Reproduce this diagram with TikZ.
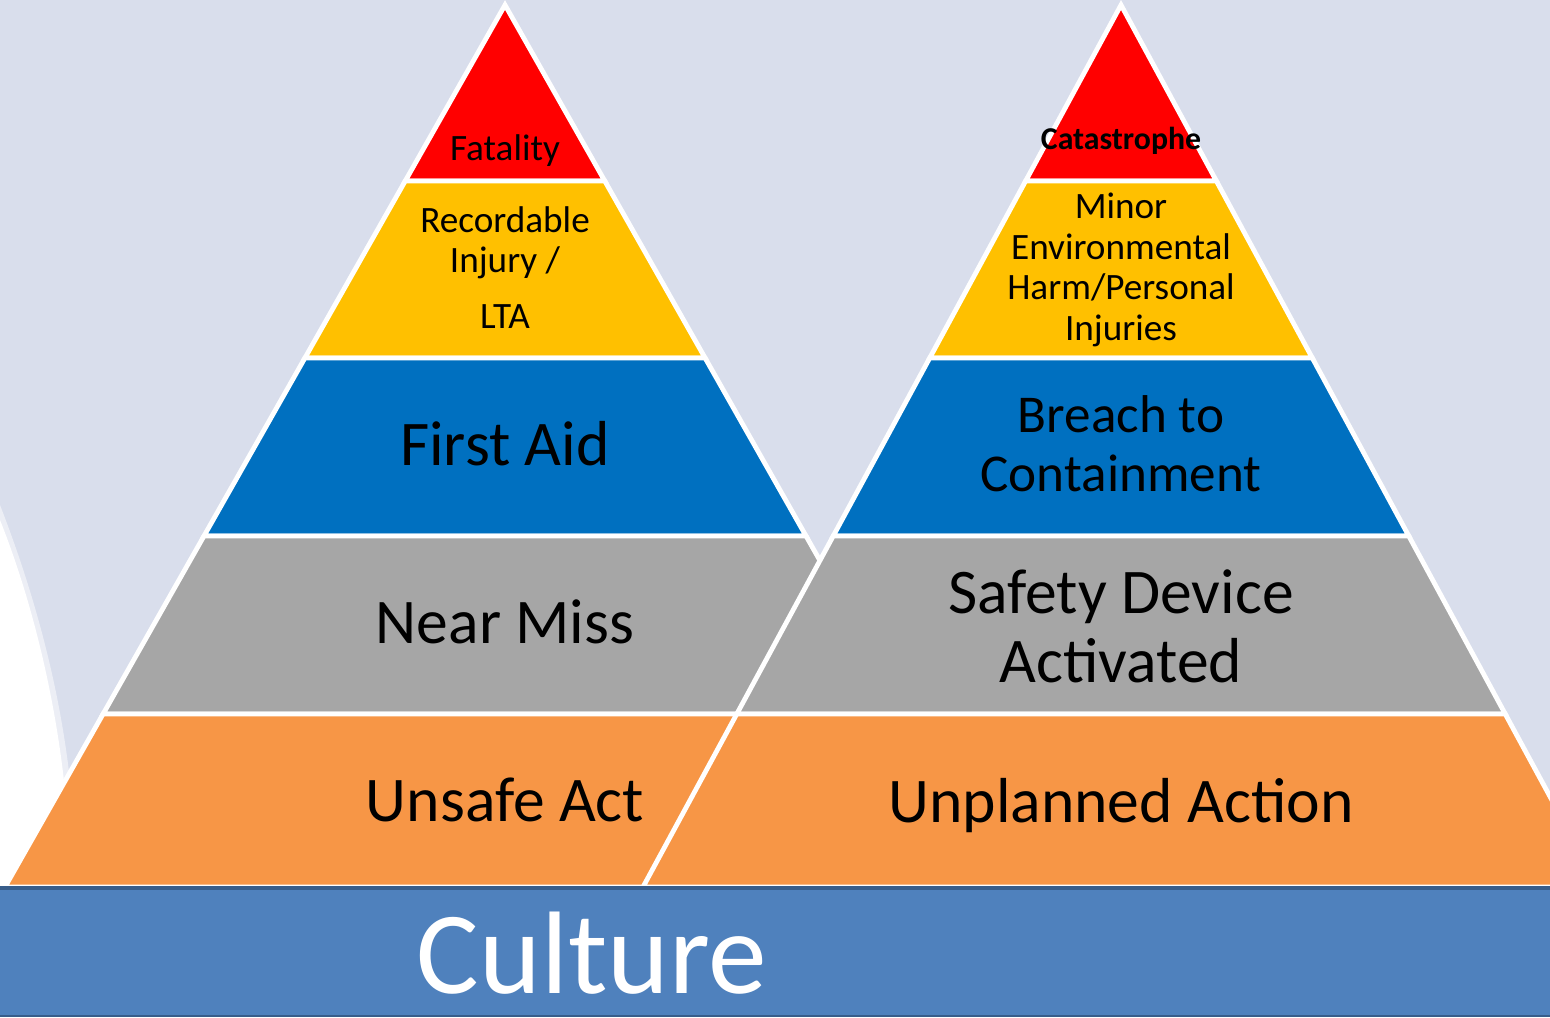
\documentclass[tikz,border=0pt]{standalone}
\usepackage{fontspec}
\setmainfont{Carlito}
\usetikzlibrary{calc}
\definecolor{bg}{RGB}{217,222,236}
\definecolor{cred}{RGB}{255,0,0}
\definecolor{cyel}{RGB}{255,192,0}
\definecolor{cblue}{RGB}{0,112,192}
\definecolor{cgray}{RGB}{166,166,166}
\definecolor{corange}{RGB}{247,150,70}
\definecolor{band}{RGB}{79,129,189}
\definecolor{bandline}{RGB}{56,93,138}
\begin{document}
\begin{tikzpicture}[x=0.5pt,y=-0.5pt,
  layer/.style={draw=white,line width=2.4pt,line join=miter},
  lbl/.style={anchor=base,inner sep=0pt,text=black},
  fs/.style={font=\fontsize{18.6}{20}\selectfont},
  fb/.style={font=\fontsize{15.9}{18}\selectfont\bfseries},
  fm/.style={font=\fontsize{26.6}{30}\selectfont},
  fl/.style={font=\fontsize{31.8}{36}\selectfont}]
\useasboundingbox (0,0) rectangle (1550,1017);
\begin{scope}
\clip (0,0) rectangle (1550,1017);
\fill[bg] (0,0) rectangle (1550,1017);
% white curved area at left
\fill[white,opacity=0.5] (0,505) .. controls (33,590) and (62,690) .. (72,800) -- (72,887) -- (0,887) -- cycle;
\fill[white] (0,520) .. controls (30,595) and (56,695) .. (66,800) -- (66,887) -- (0,887) -- cycle;

% ---------- left pyramid ----------
\coordinate (LA) at (505,5);
\coordinate (LL) at (5,887);
\coordinate (LR) at (1005,887);
\filldraw[layer,fill=cred] (LA) -- ($(LA)!0.19955!(LL)$) -- ($(LA)!0.19955!(LR)$) -- cycle;
\foreach \a/\b/\c in {0.19955/0.40023/cyel,0.40023/0.60204/cblue,0.60204/0.80385/cgray,0.80385/1/corange}{
  \filldraw[layer,fill=\c] ($(LA)!\a!(LL)$) -- ($(LA)!\b!(LL)$) -- ($(LA)!\b!(LR)$) -- ($(LA)!\a!(LR)$) -- cycle;
}

% ---------- right pyramid ----------
\coordinate (RA) at (1121,5);
\coordinate (RL) at (643,887);
\coordinate (RR) at (1599,887);
\filldraw[layer,fill=cred] (RA) -- ($(RA)!0.19955!(RL)$) -- ($(RA)!0.19955!(RR)$) -- cycle;
\foreach \a/\b/\c in {0.19955/0.40023/cyel,0.40023/0.60204/cblue,0.60204/0.80385/cgray,0.80385/1/corange}{
  \filldraw[layer,fill=\c] ($(RA)!\a!(RL)$) -- ($(RA)!\b!(RL)$) -- ($(RA)!\b!(RR)$) -- ($(RA)!\a!(RR)$) -- cycle;
}

% ---------- bottom band ----------
\fill[band] (0,887) rectangle (1550,1017);
\draw[bandline,line width=2pt] (0,888) -- (1550,888);
\draw[bandline,line width=1pt] (0,1016) -- (1550,1016);
\end{scope}

% ---------- left labels ----------
\node[lbl,fs] (fatality) at (505,160) {Fatality};
\node[lbl,fs] (rec1) at (505,232) {Recordable};
\node[lbl,fs] (rec2) at (505,272) {Injury /};
\node[lbl,fs] (rec3) at (505,328) {LTA};
\node[lbl,fl] (firstaid) at (505,465) {First Aid};
\node[lbl,fl] (nearmiss) at (505,643) {Near Miss};
\node[lbl,fl] (unsafe) at (505,821) {Unsafe Act};

% ---------- right labels ----------
\node[lbl,fb] (cat) at (1121,149) {Catastrophe};
\node[lbl,fs] (min1) at (1121,218) {Minor};
\node[lbl,fs] (min2) at (1121,259) {Environmental};
\node[lbl,fs] (min3) at (1121,299) {Harm/Personal};
\node[lbl,fs] (min4) at (1121,340) {Injuries};
\node[lbl,fm] (br1) at (1121,432) {Breach to};
\node[lbl,fm] (br2) at (1121,491) {Containment};
\node[lbl,fl] (sd1) at (1121,613) {Safety Device};
\node[lbl,fl] (sd2) at (1121,682) {Activated};
\node[lbl,fl] (unpl) at (1121,822) {Unplanned Action};

% ---------- culture ----------
\node[lbl,text=white,font=\fontsize{58.7}{60}\selectfont] (culture) at (592,993) {Culture};
\end{tikzpicture}
\end{document}
